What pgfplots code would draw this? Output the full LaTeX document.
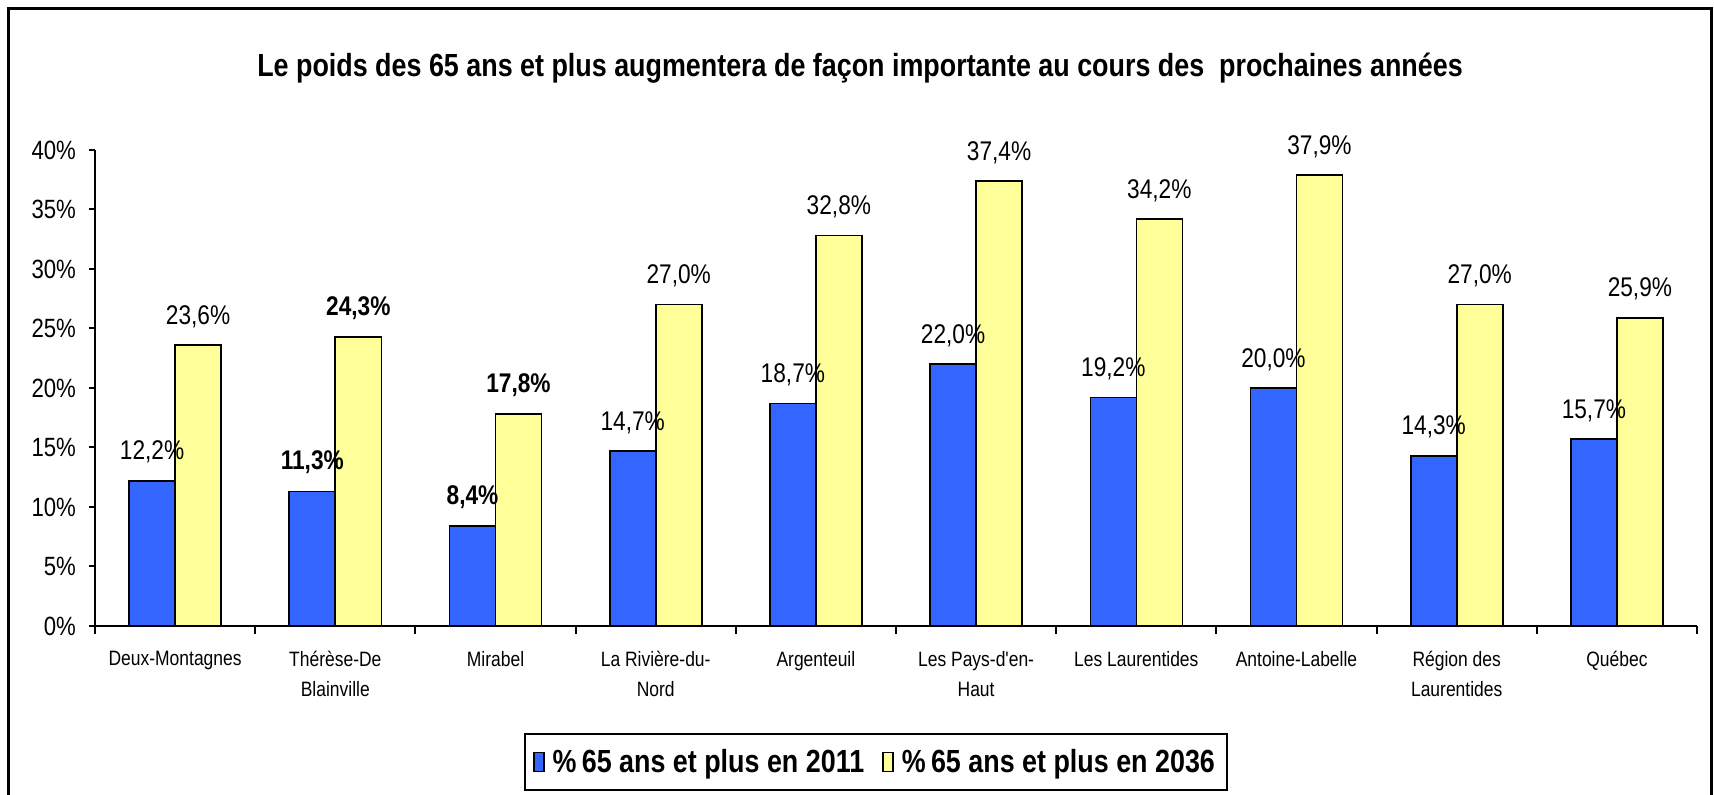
\documentclass[border=0pt]{standalone}
\usepackage{pgfplots}
\pgfplotsset{compat=1.18}
\usepackage{fontspec}
\setmainfont{Liberation Sans}[FakeStretch=0.84, Ligatures=TeXOff]
\definecolor{cblue}{RGB}{51,102,255}
\definecolor{cyellow}{RGB}{255,255,153}
\begin{document}
\begin{tikzpicture}
\useasboundingbox (-47.5pt,-84.5pt) rectangle (809.5pt,313pt);
\draw[line width=1.5pt] (-43pt,-90pt) -- (-43pt,308.5pt) -- (808pt,308.5pt) -- (808pt,-90pt);
\node[font=\fontsize{16}{19}\selectfont\bfseries] at (382.5pt,279pt) {Le poids des 65 ans et plus augmentera de façon importante au cours des\ \ prochaines années};
\begin{axis}[
  at={(0,0)}, anchor=south west,
  scale only axis, width=801pt, height=238pt,
  ybar=0pt, bar width=23pt,
  xmin=-0.5, xmax=9.5, ymin=0, ymax=40,
  axis lines=left, axis line style={-, line width=1pt},
  xtick={0,...,9},
  xticklabels={Deux-Montagnes,{Thérèse-De\\Blainville},Mirabel,{La Rivière-du-\\Nord},Argenteuil,{Les Pays-d'en-\\Haut},Les Laurentides,Antoine-Labelle,{Région des\\Laurentides},Québec},
  xticklabel style={align=center, font=\fontsize{10.4}{15}\selectfont, anchor=north, yshift=-6pt},
  major x tick style={draw=none},
  minor xtick={-0.5,0.5,...,9.5},
  minor x tick style={line width=1pt, black},
  minor tick length=4pt,
  ytick={0,5,...,40},
  yticklabels={0\%,5\%,10\%,15\%,20\%,25\%,30\%,35\%,40\%},
  yticklabel style={font=\fontsize{13.2}{15}\selectfont, xshift=-3pt},
  major y tick style={line width=1pt, black},
  major tick length=3pt,
  tick align=outside,
  point meta=explicit symbolic,
  nodes near coords,
  nodes near coords style={font=\fontsize{13.5}{15}\selectfont, anchor=south, yshift=5pt, black},
  legend columns=2,
  legend style={at={(axis description cs:0.4875,-0.2857)}, anchor=center, draw=black, line width=1pt, font=\fontsize{16}{19}\selectfont\bfseries, inner xsep=4pt, inner ysep=5.5pt, /tikz/every even column/.append style={column sep=7pt}},
  legend image code/.code={\draw[#1, draw=black, line width=0.8pt] (0pt,-4.75pt) rectangle (5pt,4.75pt);},
]
\addplot[fill=cblue, draw=black, line width=0.8pt] coordinates {
(0,12.2) [12,2\%]
(1,11.3) [\textbf{11,3\%}]
(2,8.4) [\textbf{8,4\%}]
(3,14.7) [14,7\%]
(4,18.7) [18,7\%]
(5,22.0) [22,0\%]
(6,19.2) [19,2\%]
(7,20.0) [20,0\%]
(8,14.3) [14,3\%]
(9,15.7) [15,7\%]
};
\addplot[fill=cyellow, draw=black, line width=0.8pt] coordinates {
(0,23.6) [23,6\%]
(1,24.3) [\textbf{24,3\%}]
(2,17.8) [\textbf{17,8\%}]
(3,27.0) [27,0\%]
(4,32.8) [32,8\%]
(5,37.4) [37,4\%]
(6,34.2) [34,2\%]
(7,37.9) [37,9\%]
(8,27.0) [27,0\%]
(9,25.9) [25,9\%]
};
\legend{\hspace{2pt}\%\,65 ans et plus en 2011,\hspace{2pt}\%\,65 ans et plus en 2036}
\end{axis}
\end{tikzpicture}
\end{document}
